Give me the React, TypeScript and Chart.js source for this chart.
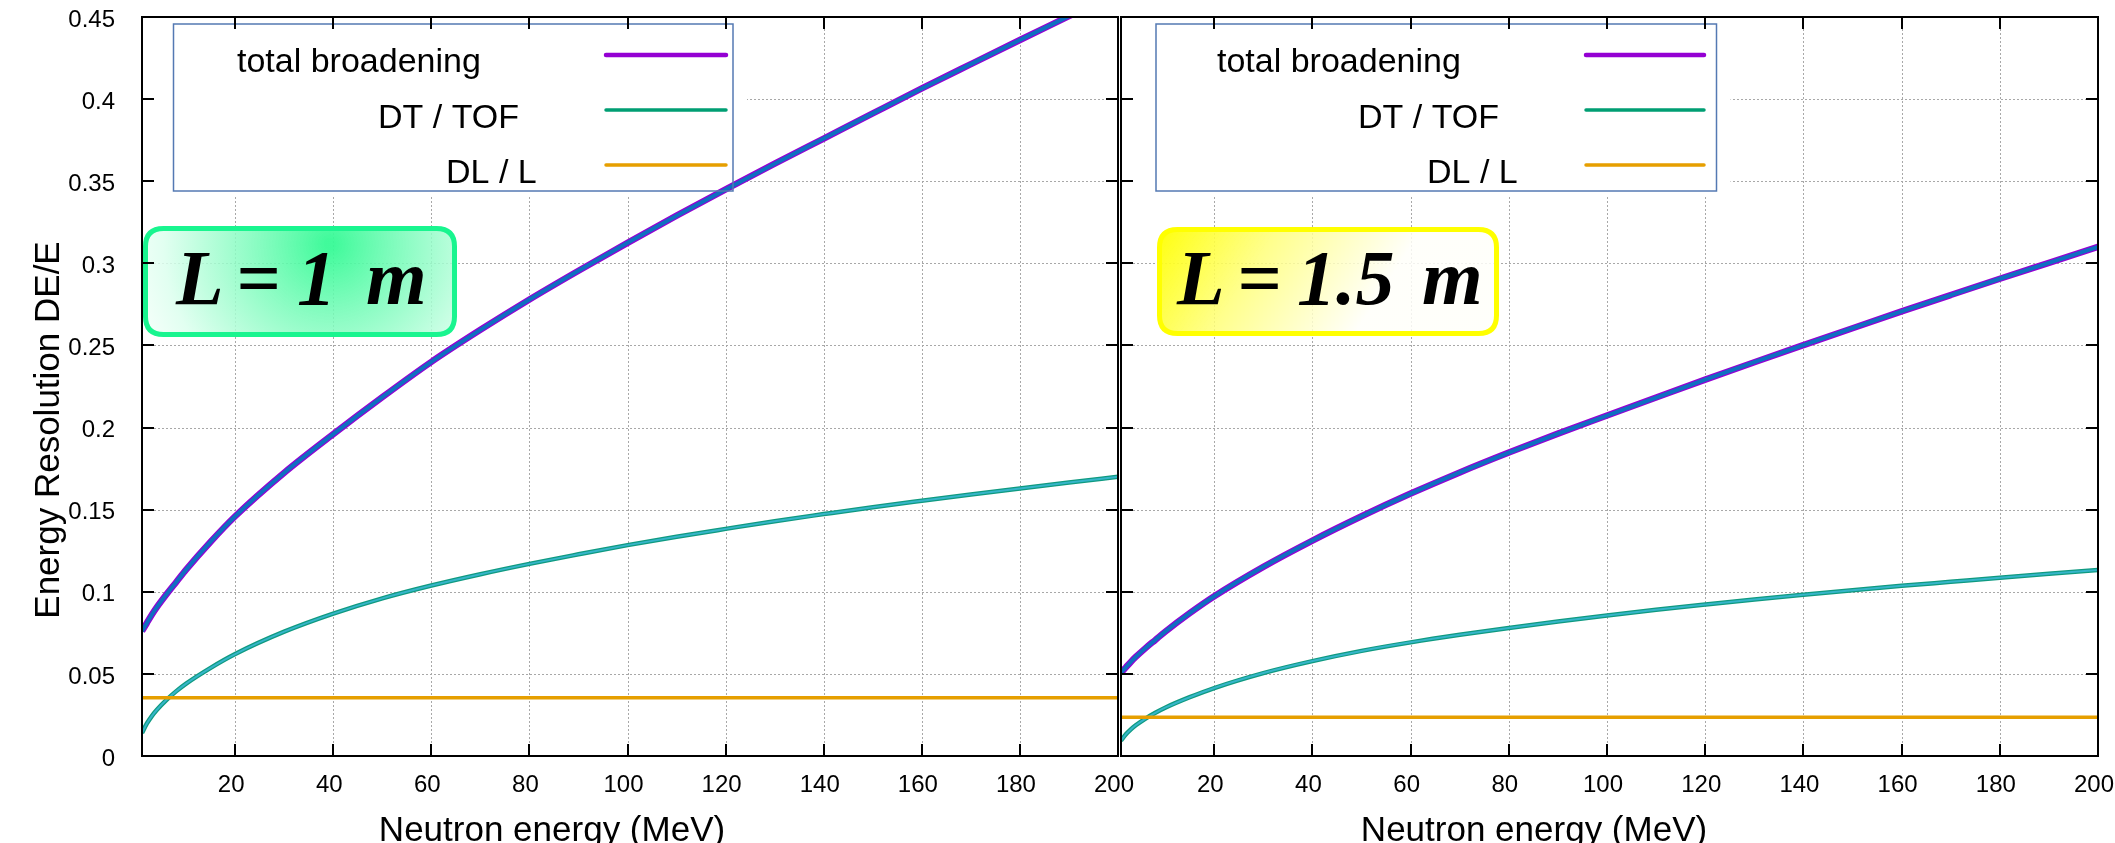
import React, { useEffect, useRef } from 'react';
import { Chart, registerables } from 'chart.js';

Chart.register(...registerables);

// ---------- data ----------
const energies = [1, 2, 3, 4, 6, 8, 10, 15, 20, 30, 40, 50, 60, 70, 80, 90, 100, 110, 120, 130, 140, 150, 160, 170, 180, 190, 200];

const total1m = [0.076, 0.081, 0.086, 0.0905, 0.0985, 0.106, 0.1135, 0.1305, 0.146, 0.1725, 0.196, 0.2185, 0.24, 0.2595, 0.278, 0.2955, 0.3125, 0.329, 0.345, 0.3607, 0.376, 0.3913, 0.4065, 0.4213, 0.436, 0.4505, 0.465];
const dtTof1m = [0.014, 0.0198, 0.0243, 0.028, 0.0342, 0.0395, 0.0441, 0.0537, 0.0621, 0.0757, 0.0867, 0.096, 0.1038, 0.1107, 0.117, 0.1228, 0.1284, 0.1335, 0.1383, 0.143, 0.1473, 0.1515, 0.1554, 0.1592, 0.1629, 0.1665, 0.17];

const total15m = [0.0507, 0.054, 0.0573, 0.0603, 0.0657, 0.0707, 0.0757, 0.087, 0.0973, 0.1152, 0.1312, 0.146, 0.1598, 0.1727, 0.1848, 0.1963, 0.2073, 0.2183, 0.2292, 0.2398, 0.2502, 0.2605, 0.2707, 0.2807, 0.2906, 0.3003, 0.31];
const dtTof15m = [0.0093, 0.0132, 0.0162, 0.0187, 0.0228, 0.0263, 0.0294, 0.0358, 0.0414, 0.0505, 0.0578, 0.064, 0.0692, 0.0738, 0.078, 0.0819, 0.0856, 0.089, 0.0922, 0.0953, 0.0982, 0.101, 0.1036, 0.1061, 0.1086, 0.111, 0.1133];

const dlEnergies = [1, 200];
const dlL1m = [0.0355, 0.0355];
const dlL15m = [0.0236, 0.0236];

const xTicks = [20, 40, 60, 80, 100, 120, 140, 160, 180, 200];
const yTicks = [0, 0.05, 0.1, 0.15, 0.2, 0.25, 0.3, 0.35, 0.4, 0.45];
const yTickLabels = ['0', '0.05', '0.1', '0.15', '0.2', '0.25', '0.3', '0.35', '0.4', '0.45'];

const legendLabels = ['total broadening', 'DT / TOF', 'DL / L'];
const xTitle = 'Neutron energy (MeV)';
const yTitle = 'Energy Resolution DE/E';

// ---------- styles / layout ----------
const PURPLE = '#9400d3';
const BLUE = '#0f6fc0';
const TEAL = '#0f9a80';
const CYAN = '#36b5c9';
const ORANGE = '#e69f00';
const LEGEND_COLORS = [PURPLE, '#009e73', ORANGE];
const LEGEND_WIDTHS = [4.5, 3.5, 3.5];
const SANS = '"Liberation Sans", Arial, sans-serif';
const SERIF = '"Liberation Serif", "Times New Roman", serif';
const H = 843;

type Panel = {
  key: string;
  canvasLeft: number;
  canvasWidth: number;
  area: { left: number; right: number; top: number; bottom: number };
  showYLabels: boolean;
  total: number[];
  dt: number[];
  dl: number[];
  legendBox: { x1: number; y1: number; x2: number; y2: number };
  legendTextX: number[];
  legendBaselines: number[];
  legendLineY: number[];
  legendLineX: [number, number];
  label: { x: number; y: number; w: number; h: number; kind: 'green' | 'yellow'; parts: [string, number][]; baseline: number };
  xTitleCenter: number;
  yTitle: boolean;
};

const PANELS: Panel[] = [
  {
    key: 'l1',
    canvasLeft: 0,
    canvasWidth: 1150,
    area: { left: 142, right: 1118, top: 17, bottom: 756 },
    showYLabels: true,
    total: total1m,
    dt: dtTof1m,
    dl: dlL1m,
    legendBox: { x1: 173.5, y1: 24, x2: 733, y2: 191 },
    legendTextX: [237, 378, 446],
    legendBaselines: [72, 128, 183],
    legendLineY: [55, 110, 165],
    legendLineX: [606, 726],
    label: { x: 143, y: 226, w: 314, h: 111, kind: 'green', parts: [['L', 176], ['=', 236], ['1', 297], ['m', 366]], baseline: 304 },
    xTitleCenter: 552,
    yTitle: true,
  },
  {
    key: 'l15',
    canvasLeft: 1100,
    canvasWidth: 1015,
    area: { left: 1121, right: 2098, top: 17, bottom: 756 },
    showYLabels: false,
    total: total15m,
    dt: dtTof15m,
    dl: dlL15m,
    legendBox: { x1: 1156, y1: 24, x2: 1716.5, y2: 191 },
    legendTextX: [1217, 1358, 1427],
    legendBaselines: [72, 128, 183],
    legendLineY: [55, 110, 165],
    legendLineX: [1586, 1704],
    label: { x: 1157, y: 227, w: 342, h: 109, kind: 'yellow', parts: [['L', 1177], ['=', 1237], ['1.5', 1297], ['m', 1422]], baseline: 304 },
    xTitleCenter: 1534,
    yTitle: false,
  },
];

function roundRect(ctx: CanvasRenderingContext2D, x: number, y: number, w: number, h: number, r: number) {
  ctx.beginPath();
  ctx.moveTo(x + r, y);
  ctx.lineTo(x + w - r, y);
  ctx.quadraticCurveTo(x + w, y, x + w, y + r);
  ctx.lineTo(x + w, y + h - r);
  ctx.quadraticCurveTo(x + w, y + h, x + w - r, y + h);
  ctx.lineTo(x + r, y + h);
  ctx.quadraticCurveTo(x, y + h, x, y + h - r);
  ctx.lineTo(x, y + r);
  ctx.quadraticCurveTo(x, y, x + r, y);
  ctx.closePath();
}

function makeDecor(p: Panel) {
  const o = p.canvasLeft;
  return {
    id: 'decor_' + p.key,
    beforeDatasetsDraw(chart: any) {
      const { ctx, chartArea: a, scales } = chart;
      const xs = scales.x;
      const ys = scales.y;
      ctx.save();
      ctx.strokeStyle = '#a8a8a8';
      ctx.lineWidth = 1;
      ctx.setLineDash([2, 2]);
      for (const v of xTicks) {
        const px = Math.round(xs.getPixelForValue(v)) + 0.5;
        ctx.beginPath();
        ctx.moveTo(px, a.top);
        ctx.lineTo(px, a.bottom);
        ctx.stroke();
      }
      for (const v of yTicks) {
        const py = Math.round(ys.getPixelForValue(v)) + 0.5;
        ctx.beginPath();
        ctx.moveTo(a.left, py);
        ctx.lineTo(a.right, py);
        ctx.stroke();
      }
      ctx.setLineDash([]);
      // opaque key area hides the grid behind it
      const lb = p.legendBox;
      ctx.fillStyle = '#ffffff';
      ctx.fillRect(a.left + 1, a.top + 1, lb.x2 - o + 13 - a.left, lb.y2 + 4 - a.top);
      ctx.restore();
    },
    afterDatasetsDraw(chart: any) {
      const { ctx, chartArea: a, scales } = chart;
      const xs = scales.x;
      const ys = scales.y;
      ctx.save();
      // legend
      const lb = p.legendBox;
      ctx.strokeStyle = '#5479b3';
      ctx.lineWidth = 1.5;
      ctx.strokeRect(lb.x1 - o, lb.y1, lb.x2 - lb.x1, lb.y2 - lb.y1);
      ctx.font = '34px ' + SANS;
      ctx.fillStyle = '#000';
      ctx.textBaseline = 'alphabetic';
      ctx.textAlign = 'left';
      legendLabels.forEach((t, i) => {
        ctx.fillText(t, p.legendTextX[i] - o, p.legendBaselines[i]);
        ctx.beginPath();
        ctx.strokeStyle = LEGEND_COLORS[i];
        ctx.lineWidth = LEGEND_WIDTHS[i];
        ctx.lineCap = 'round';
        ctx.moveTo(p.legendLineX[0] - o, p.legendLineY[i]);
        ctx.lineTo(p.legendLineX[1] - o, p.legendLineY[i]);
        ctx.stroke();
      });
      ctx.lineCap = 'butt';

      // L box
      const L = p.label;
      const bx = L.x - o + 2.5;
      const by = L.y + 2.5;
      const bw = L.w - 5;
      const bh = L.h - 5;
      let grad: CanvasGradient;
      if (L.kind === 'green') {
        grad = ctx.createRadialGradient(330 - o, 244, 5, 330 - o, 244, 220);
        grad.addColorStop(0, 'rgba(55,250,150,0.95)');
        grad.addColorStop(0.35, 'rgba(125,252,188,0.85)');
        grad.addColorStop(0.75, 'rgba(220,255,238,0.85)');
        grad.addColorStop(1, 'rgba(255,255,255,0.85)');
      } else {
        grad = ctx.createLinearGradient(bx, by, bx + bw * 0.55, by + bh * 1.15);
        grad.addColorStop(0, 'rgba(255,255,0,0.95)');
        grad.addColorStop(0.45, 'rgba(255,255,120,0.85)');
        grad.addColorStop(1, 'rgba(255,255,250,0.85)');
      }
      roundRect(ctx, bx, by, bw, bh, 18);
      ctx.fillStyle = grad;
      ctx.fill();
      ctx.lineWidth = 5;
      ctx.strokeStyle = L.kind === 'green' ? '#19f58f' : '#ffff00';
      ctx.stroke();
      ctx.fillStyle = '#000';
      ctx.font = 'italic bold 78px ' + SERIF;
      for (const [t, x] of L.parts) ctx.fillText(t, x - o, L.baseline);

      // frame
      ctx.strokeStyle = '#000';
      ctx.lineWidth = 2;
      ctx.strokeRect(a.left, a.top, a.right - a.left, a.bottom - a.top);
      // inward ticks
      const TL = 12;
      ctx.beginPath();
      for (const v of xTicks) {
        const px = Math.round(xs.getPixelForValue(v));
        ctx.moveTo(px, a.bottom);
        ctx.lineTo(px, a.bottom - TL);
        ctx.moveTo(px, a.top);
        ctx.lineTo(px, a.top + TL);
      }
      for (const v of yTicks) {
        const py = Math.round(ys.getPixelForValue(v));
        ctx.moveTo(a.left, py);
        ctx.lineTo(a.left + TL, py);
        ctx.moveTo(a.right, py);
        ctx.lineTo(a.right - TL, py);
      }
      ctx.stroke();

      // axis titles
      ctx.fillStyle = '#000';
      ctx.font = '35px ' + SANS;
      ctx.textAlign = 'center';
      ctx.textBaseline = 'alphabetic';
      ctx.fillText(xTitle, p.xTitleCenter - o, 841);
      if (p.yTitle) {
        ctx.translate(59, 430);
        ctx.rotate(-Math.PI / 2);
        ctx.fillText(yTitle, 0, 0);
      }
      ctx.restore();
    },
  };
}

function buildConfig(p: Panel): any {
  const pts = (xv: number[], yv: number[]) => xv.map((x, i) => ({ x, y: yv[i] }));
  const base = { pointRadius: 0, pointHoverRadius: 0, fill: false, cubicInterpolationMode: 'monotone', borderJoinStyle: 'round' };
  const o = p.canvasLeft;
  return {
    type: 'line',
    data: {
      datasets: [
        { ...base, label: legendLabels[0], data: pts(energies, p.total), borderColor: PURPLE, borderWidth: 6.5, order: 5 },
        { ...base, label: legendLabels[0] + ' ', data: pts(energies, p.total), borderColor: BLUE, borderWidth: 4, order: 4 },
        { ...base, label: legendLabels[1], data: pts(energies, p.dt), borderColor: TEAL, borderWidth: 4.5, order: 3 },
        { ...base, label: legendLabels[1] + ' ', data: pts(energies, p.dt), borderColor: CYAN, borderWidth: 2, order: 2 },
        { ...base, label: legendLabels[2], data: pts(dlEnergies, p.dl), borderColor: ORANGE, borderWidth: 3.5, order: 1 },
      ],
    },
    options: {
      animation: false,
      responsive: false,
      maintainAspectRatio: false,
      devicePixelRatio: 1,
      events: [],
      layout: { padding: { left: 0, top: p.area.top, bottom: 0, right: p.canvasWidth - (p.area.right - o) } },
      plugins: { legend: { display: false }, tooltip: { enabled: false }, title: { display: false } },
      scales: {
        x: {
          type: 'linear',
          min: 1,
          max: 200,
          afterBuildTicks: (s: any) => { s.ticks = xTicks.map((v) => ({ value: v })); },
          afterFit: (s: any) => { s.height = H - p.area.bottom; s.paddingLeft = 0; s.paddingRight = 0; s.paddingTop = 0; s.paddingBottom = 0; },
          ticks: {
            autoSkip: false,
            maxRotation: 0,
            minRotation: 0,
            padding: 15,
            labelOffset: -4,
            color: '#000',
            font: { family: SANS, size: 24 },
            callback: (v: number) => String(v),
          },
          grid: { display: false, drawTicks: false },
          border: { display: false },
        },
        y: {
          type: 'linear',
          min: 0,
          max: 0.45,
          afterBuildTicks: (s: any) => { s.ticks = yTicks.map((v) => ({ value: v })); },
          afterFit: (s: any) => { s.width = p.area.left - o; s.paddingLeft = 0; s.paddingRight = 0; s.paddingTop = 0; s.paddingBottom = 0; },
          ticks: {
            display: p.showYLabels,
            autoSkip: false,
            padding: 27,
            labelOffset: 3,
            color: '#000',
            font: { family: SANS, size: 24 },
            callback: (v: number) => {
              const i = yTicks.findIndex((t) => Math.abs(t - v) < 1e-9);
              return i >= 0 ? yTickLabels[i] : '';
            },
          },
          grid: { display: false, drawTicks: false },
          border: { display: false },
        },
      },
    },
    plugins: [makeDecor(p)],
  };
}

export default function App() {
  const leftRef = useRef<HTMLCanvasElement>(null);
  const rightRef = useRef<HTMLCanvasElement>(null);
  useEffect(() => {
    const c1 = new Chart(leftRef.current as HTMLCanvasElement, buildConfig(PANELS[0]));
    const c2 = new Chart(rightRef.current as HTMLCanvasElement, buildConfig(PANELS[1]));
    return () => {
      c1.destroy();
      c2.destroy();
    };
  }, []);
  return (
    <div style={{ position: 'fixed', left: 0, top: 0, width: 2115, height: H, background: '#ffffff', overflow: 'hidden' }}>
      <canvas
        ref={leftRef}
        width={PANELS[0].canvasWidth}
        height={H}
        style={{ position: 'absolute', left: PANELS[0].canvasLeft, top: 0, width: PANELS[0].canvasWidth, height: H }}
      />
      <canvas
        ref={rightRef}
        width={PANELS[1].canvasWidth}
        height={H}
        style={{ position: 'absolute', left: PANELS[1].canvasLeft, top: 0, width: PANELS[1].canvasWidth, height: H }}
      />
    </div>
  );
}
